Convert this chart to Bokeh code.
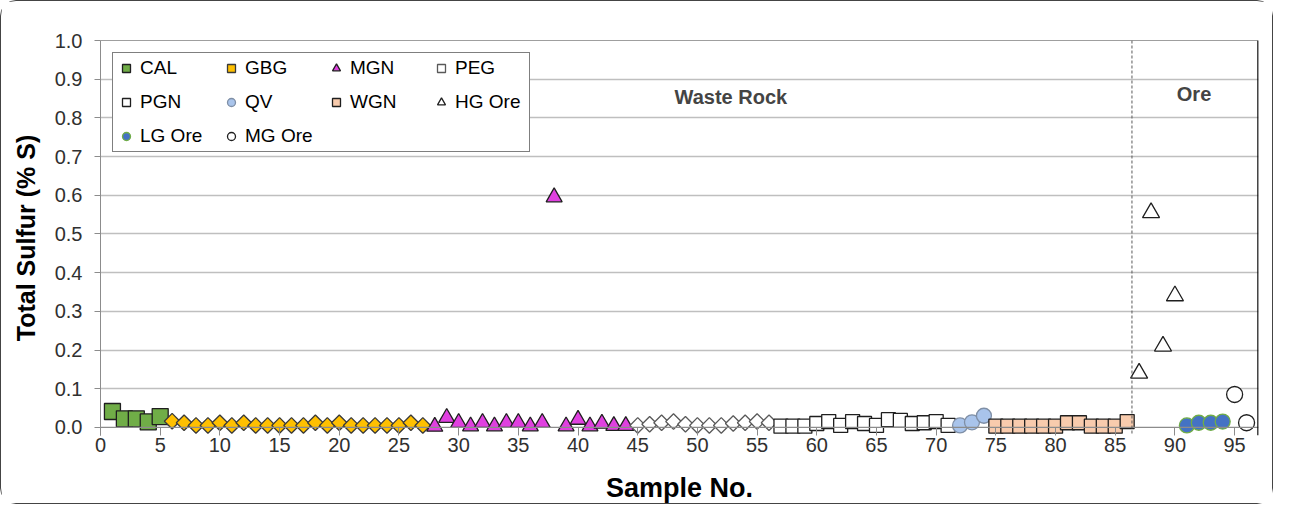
from bokeh.plotting import figure
from bokeh.models import Span, Label, Legend, LegendItem, FixedTicker, CustomJSTickFormatter
from bokeh.embed import file_html
from bokeh.resources import INLINE
import math

# ---- data ----
cal_x = [1, 2, 3, 4, 5]
cal_y = [0.041, 0.022, 0.022, 0.014, 0.028]

gbg_x = list(range(6, 28))
gbg_y = [0.016, 0.012, 0.005, 0.005, 0.012, 0.005, 0.012, 0.005, 0.005, 0.005, 0.005,
         0.005, 0.012, 0.005, 0.012, 0.005, 0.005, 0.005, 0.005, 0.005, 0.012, 0.005]

mgn_x = [28, 29, 30, 31, 32, 33, 34, 35, 36, 37, 38, 39, 40, 41, 42, 43, 44]
mgn_y = [0.002, 0.025, 0.012, 0.003, 0.012, 0.003, 0.012, 0.012, 0.003, 0.012, 0.595,
         0.003, 0.02, 0.003, 0.01, 0.004, 0.004]

peg_x = list(range(45, 57))
peg_y = [0.005, 0.008, 0.012, 0.015, 0.008, 0.005, 0.005, 0.005, 0.010, 0.012, 0.015, 0.012]

pgn_x = list(range(57, 72))
pgn_y = [0.003, 0.003, 0.003, 0.010, 0.015, 0.005, 0.015, 0.010, 0.005, 0.020, 0.018,
         0.010, 0.012, 0.015, 0.005]

qv_x = [72, 73, 74]
qv_y = [0.005, 0.013, 0.030]

wgn_x = list(range(75, 87))
wgn_y = [0.003, 0.003, 0.003, 0.003, 0.003, 0.003, 0.012, 0.012, 0.003, 0.003, 0.003, 0.015]

hg_x = [87, 88, 89, 90]
hg_y = [0.14, 0.555, 0.21, 0.34]

lg_x = [91, 92, 93, 94]
lg_y = [0.005, 0.012, 0.012, 0.015]

mg_x = [95, 96]
mg_y = [0.085, 0.012]

x_ticks = list(range(0, 100, 5))
y_ticks = [round(i * 0.1, 1) for i in range(11)]

FONT = "Liberation Sans"
AXIS_GRAY = "#8c8c8c"

p = figure(width=1273, height=504, x_range=(0, 97), y_range=(-0.021, 1.0),
           output_backend="svg", toolbar_location=None,
           min_border_left=99, min_border_right=16, min_border_top=39, min_border_bottom=70)
p.styles = {"border": "1px solid #444444", "border-radius": "16px"}

p.outline_line_color = None
p.xgrid.grid_line_color = None
p.ygrid.grid_line_color = "#bfbfbf"
p.ygrid.grid_line_width = 1.5
p.ygrid.ticker = FixedTicker(ticks=y_ticks[1:])

p.xaxis.ticker = FixedTicker(ticks=x_ticks)
p.yaxis.ticker = FixedTicker(ticks=y_ticks)
p.yaxis.formatter = CustomJSTickFormatter(code="return tick.toFixed(1);")

for ax in (p.xaxis, p.yaxis):
    ax.axis_line_color = AXIS_GRAY
    ax.major_tick_line_color = AXIS_GRAY
    ax.minor_tick_line_color = None
    ax.major_label_text_font = FONT
    ax.major_label_text_font_size = "20px"
    ax.major_label_text_color = "#303030"
    ax.axis_label_text_font = FONT
    ax.axis_label_text_font_style = "bold"
    ax.axis_label_text_color = "#000000"

p.yaxis.major_tick_out = 6
p.yaxis.major_tick_in = 0
p.yaxis.major_label_standoff = 12
p.xaxis.axis_line_color = None
p.xaxis.major_tick_out = 0
p.xaxis.major_tick_in = 8
p.xaxis.major_label_standoff = 2

p.xaxis.axis_label = "Sample No."
p.yaxis.axis_label = "Total Sulfur (% S)"
p.xaxis.axis_label_text_font_size = "27px"
p.yaxis.axis_label_text_font_size = "25px"
p.xaxis.axis_label_standoff = 18
p.yaxis.axis_label_standoff = 12

# axis line at zero, top and right plot-area border
p.add_layout(Span(location=0, dimension="width", line_color=AXIS_GRAY, line_width=1.2))
p.add_layout(Span(location=1.0, dimension="width", line_color="#404040", line_width=1))
p.add_layout(Span(location=96.96, dimension="height", line_color="#000000", line_width=1.5))

OL = "#1f1f1f"
series = [
    ("CAL", cal_x, cal_y, "square", 16, 0, "#70AD47", OL),
    ("GBG", gbg_x, gbg_y, "square", 11, math.pi / 4, "#FFC000", "#3a3a3a"),
    ("MGN", mgn_x, mgn_y, "triangle", 16, 0, "#E040E0", OL),
    ("PEG", peg_x, peg_y, "square", 11, math.pi / 4, "#FFFFFF", "#595959"),
    ("PGN", pgn_x, pgn_y, "square", 14, 0, "#FFFFFF", OL),
    ("QV", qv_x, qv_y, "circle", 15, 0, "#A9C4EB", "#7f8fa6"),
    ("WGN", wgn_x, wgn_y, "square", 14, 0, "#F8CBAD", OL),
    ("HG Ore", hg_x, hg_y, "triangle", 17, 0, "#FFFFFF", OL),
    ("LG Ore", lg_x, lg_y, "circle", 15, 0, "#4472C4", "#70AD47"),
    ("MG Ore", mg_x, mg_y, "circle", 16, 0, "#FFFFFF", OL),
]

items = []
for name, xs, ys, marker, size, ang, fill, line in series:
    r = p.scatter(xs, ys, marker=marker, size=size, angle=ang, fill_color=fill,
                  line_color=line, line_width=1.3)
    items.append(LegendItem(label=name, renderers=[r]))

p.add_layout(Span(location=86.4, dimension="height", line_color="#595959",
                  line_dash="3 2", line_width=1))

p.add_layout(Label(x=52.8, y=0.853, text="Waste Rock", text_font=FONT, text_font_style="bold",
                   text_font_size="20px", text_align="center", text_baseline="middle"))
p.add_layout(Label(x=91.6, y=0.863, text="Ore", text_font=FONT, text_font_style="bold",
                   text_font_size="20px", text_align="center", text_baseline="middle"))

legend = Legend(items=items, ncols=4, orientation="horizontal", location="top_left")
legend.margin = 12
legend.padding = 3
legend.glyph_width = 20
legend.glyph_height = 24
legend.label_standoff = 4
legend.label_width = 71
legend.label_height = 24
legend.spacing = 10
legend.label_text_font = FONT
legend.label_text_font_size = "19px"
legend.label_text_color = "#000000"
legend.border_line_color = "#000000"
legend.border_line_width = 1
legend.background_fill_color = "#FFFFFF"
legend.background_fill_alpha = 1.0
p.add_layout(legend)

open("out.html", "w").write(file_html(p, INLINE))
